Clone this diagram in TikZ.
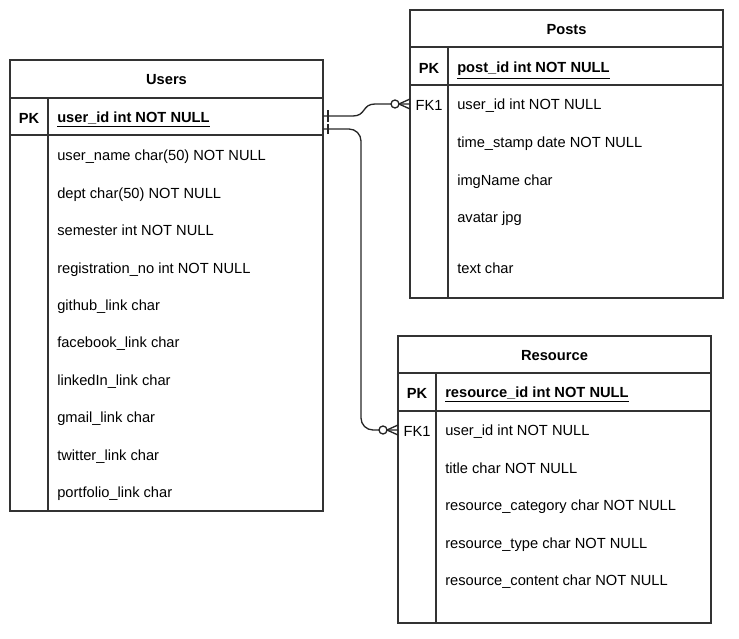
\documentclass[tikz,border=0pt]{standalone}
\usepackage{fontspec}
\setmainfont{Liberation Sans}
\usetikzlibrary{calc}
\newcommand{\erfont}{\fontsize{11}{13.2}\selectfont}
\begin{document}
\begin{tikzpicture}[x=0.75pt,y=-0.75pt,
    box/.style={draw=black!80, line width=1pt},
    ttl/.style={font=\erfont\bfseries},
    key/.style={font=\erfont\bfseries},
    fk/.style={font=\erfont},
    fld/.style={font=\erfont, anchor=west, inner sep=0pt, text height=8.8pt, text depth=0pt},
    rel/.style={draw=black!85, line width=1pt}]
    \useasboundingbox (0,0) rectangle (739,639);

    % Users table
    \draw[box] (10,60) rectangle (323,511);
    \draw[box] (10,98) -- (323,98) (10,135) -- (323,135) (48,98) -- (48,511);
    \node[ttl] (usersTitle) at (166.5,80) {Users};
    \node[key] (usersPK) at (29,118) {PK};
    \node[fld, font=\erfont\bfseries] (usersId) at (57,117) {\underline{user\_id int NOT NULL}};
    \foreach \txt [count=\i] in {user\_name char(50) NOT NULL, dept char(50) NOT NULL,
        semester int NOT NULL, registration\_no int NOT NULL, github\_link char,
        facebook\_link char, linkedIn\_link char, gmail\_link char, twitter\_link char,
        portfolio\_link char}
        \node[fld] (usersF\i) at (57,{155+37.4*(\i-1)}) {\txt};

    % Posts table
    \draw[box] (410,10) rectangle (723,298);
    \draw[box] (410,47) -- (723,47) (410,85) -- (723,85) (448,47) -- (448,298);
    \node[ttl] (postsTitle) at (566.5,30) {Posts};
    \node[key] (postsPK) at (429,68) {PK};
    \node[fld, font=\erfont\bfseries] (postsId) at (457,67) {\underline{post\_id int NOT NULL}};
    \node[fk] (postsFK) at (429,105) {FK1};
    \foreach \y/\txt [count=\i] in {104/user\_id int NOT NULL, 142/time\_stamp date NOT NULL,
        180/imgName char, 217/avatar jpg, 268/text char}
        \node[fld] (postsF\i) at (457,\y) {\txt};

    % Resource table
    \draw[box] (398,336) rectangle (711,623);
    \draw[box] (398,373) -- (711,373) (398,411) -- (711,411) (436,373) -- (436,623);
    \node[ttl] (resTitle) at (554.5,356) {Resource};
    \node[key] (resPK) at (417,393) {PK};
    \node[fld, font=\erfont\bfseries] (resId) at (445,392) {\underline{resource\_id int NOT NULL}};
    \node[fk] (resFK) at (417,431) {FK1};
    \foreach \txt [count=\i] in {user\_id int NOT NULL, title char NOT NULL,
        resource\_category char NOT NULL, resource\_type char NOT NULL,
        resource\_content char NOT NULL}
        \node[fld] (resF\i) at (445,{430+37.4*(\i-1)}) {\txt};

    % Relation ends
    \coordinate (userA) at (323,116);
    \coordinate (userB) at (323,129);
    \coordinate (postEnd) at (410,104);
    \coordinate (resEnd) at (398,430);

    % Users 1 -- 0..n Posts
    \draw[rel] (userA) -- (353,116) .. controls (366,116) and (362,104) .. (375,104) -- (postEnd);
    \draw[rel] ($(userA)+(5,-6)$) -- ++(0,12);
    \draw[rel] ($(postEnd)+(-11,0)$) -- ($(postEnd)+(0,-5)$) ($(postEnd)+(-11,0)$) -- ($(postEnd)+(0,5)$);
    \draw[rel, fill=white] ($(postEnd)+(-15,0)$) circle (3pt);

    % Users 1 -- 0..n Resource
    \draw[rel, rounded corners=9pt] (userB) -- (361,129) |- (resEnd);
    \draw[rel] ($(userB)+(5,-5)$) -- ++(0,10);
    \draw[rel] ($(resEnd)+(-11,0)$) -- ($(resEnd)+(0,-5)$) ($(resEnd)+(-11,0)$) -- ($(resEnd)+(0,5)$);
    \draw[rel, fill=white] ($(resEnd)+(-15,0)$) circle (3pt);
\end{tikzpicture}
\end{document}
